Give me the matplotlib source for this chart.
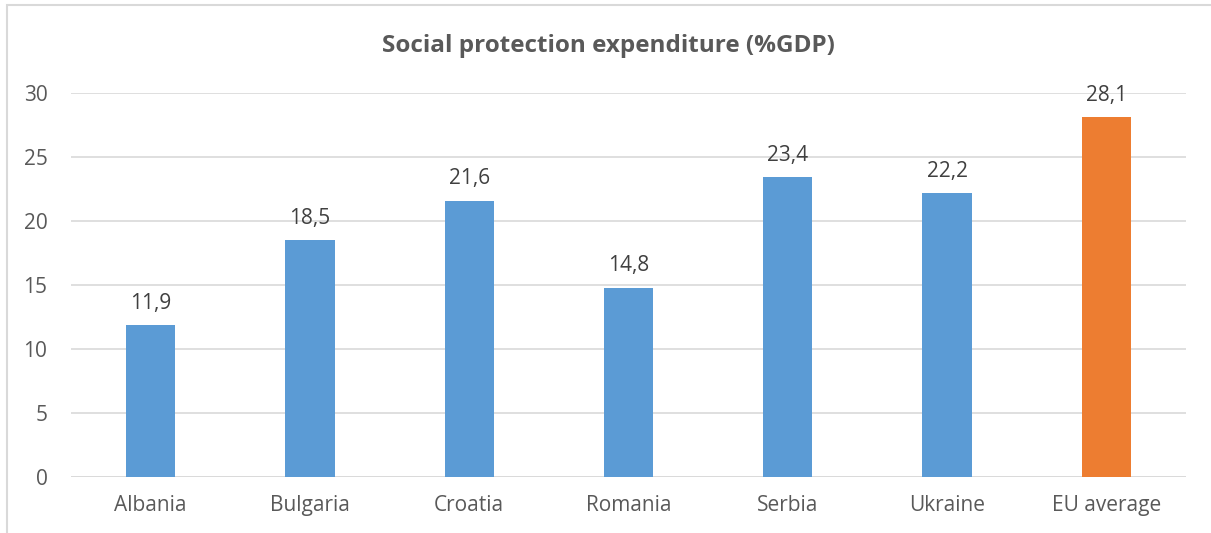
import matplotlib
matplotlib.use("Agg")
import matplotlib.pyplot as plt
from matplotlib.patches import Rectangle

categories = ["Albania", "Bulgaria", "Croatia", "Romania", "Serbia", "Ukraine", "EU average"]
values = [11.9, 18.5, 21.6, 14.8, 23.4, 22.2, 28.1]
labels = ["11,9", "18,5", "21,6", "14,8", "23,4", "22,2", "28,1"]
colors = ["#5B9BD5"] * 6 + ["#ED7D31"]
yticks = [0, 5, 10, 15, 20, 25, 30]

plt.rcParams['font.family'] = ['Open Sans', 'DejaVu Sans']

fig = plt.figure(figsize=(12.11, 5.33), dpi=100)
W, H = 1211, 533
ax = fig.add_axes([71 / W, 1 - 477 / H, (1186 - 71) / W, (477 - 93) / H])

x = list(range(len(categories)))
bars = ax.bar(x, values, width=0.31, color=colors, zorder=3)
for xi, v, lab in zip(x, values, labels):
    ax.annotate(lab, (xi, v), xytext=(0, 8), textcoords="offset points",
                ha="center", va="bottom", fontsize=15, color="#404040")

ax.set_xlim(-0.5, len(categories) - 0.5)
ax.set_ylim(0, 30)
ax.set_yticks(yticks)
ax.set_yticklabels([str(t) for t in yticks])
ax.set_xticks(x)
ax.set_xticklabels(categories)
ax.tick_params(axis="both", length=0, labelsize=15, labelcolor="#595959")
ax.tick_params(axis="y", pad=17)
ax.tick_params(axis="x", pad=13)
ax.yaxis.grid(True, color="#D9D9D9", linewidth=1.2, zorder=0)
for s in ax.spines.values():
    s.set_visible(False)
ax.axhline(0, color="#D9D9D9", linewidth=1.2, zorder=2)

fig.text(608 / W, 1 - 46 / H, "Social protection expenditure (%GDP)", ha="center", va="center",
         fontsize=17.5, fontweight="bold", color="#595959")

fig.patches.append(Rectangle((6.5 / W, -0.1), 1.5, (1 - 5.5 / H) + 0.1, transform=fig.transFigure,
                             fill=False, edgecolor="#D9D9D9", linewidth=1.5))

fig.savefig("out.png", dpi=100)
